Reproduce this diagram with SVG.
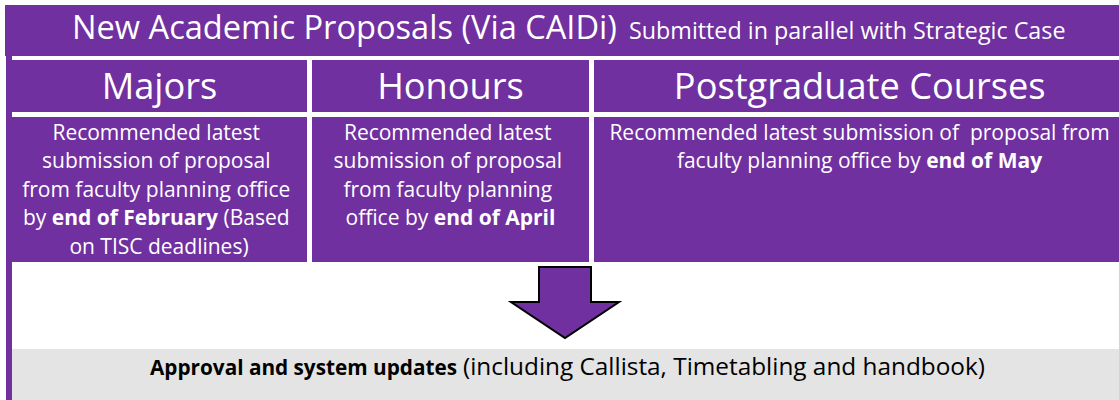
<svg xmlns="http://www.w3.org/2000/svg" width="1119" height="400" viewBox="0 0 1119 400">
<style>
.p{fill:#7030a0}
.t{font-family:"Open Sans","Noto Sans","Liberation Sans",sans-serif;fill:#ffffff}
.h{font-size:36.2px;text-anchor:middle}
.b{font-size:21px;text-anchor:middle}
.k{font-family:"Open Sans","Noto Sans","Liberation Sans",sans-serif;fill:#000000}
.bold{font-weight:bold}
</style>
<rect width="1119" height="400" fill="#ffffff"/>
<rect class="p" x="6" y="56" width="6" height="344"/>
<g id="title">
<rect class="p" x="5" y="5" width="1114" height="51"/>
<text class="t" y="38.5"><tspan x="72" font-size="32.6">New Academic Proposals (Via CAIDi)</tspan><tspan x="629" font-size="23.3">Submitted in parallel with Strategic Case</tspan></text>
</g>
<g id="majors-header">
<rect class="p" x="12" y="60" width="295" height="52"/>
<text class="t h" x="159.5" y="98.5">Majors</text>
</g>
<g id="honours-header">
<rect class="p" x="312" y="60" width="277" height="52"/>
<text class="t h" x="450.5" y="98.5">Honours</text>
</g>
<g id="postgrad-header">
<rect class="p" x="594" y="60" width="525" height="52"/>
<text class="t h" x="859.7" y="98.5">Postgraduate Courses</text>
</g>
<g id="majors-body">
<rect class="p" x="12" y="117" width="295" height="145"/>
<text class="t b" y="139.5">
<tspan x="159" dy="0">Recommended latest</tspan>
<tspan x="159" dy="28.5">submission of proposal</tspan>
<tspan x="159" dy="28.5">from faculty planning office</tspan>
<tspan x="159" dy="28.5">by <tspan class="bold">end of February</tspan> (Based</tspan>
<tspan x="159" dy="28.5">on TISC deadlines)</tspan>
</text>
</g>
<g id="honours-body">
<rect class="p" x="312" y="117" width="277" height="145"/>
<text class="t b" y="139.5">
<tspan x="450.5" dy="0">Recommended latest</tspan>
<tspan x="450.5" dy="28.5">submission of proposal</tspan>
<tspan x="450.5" dy="28.5">from faculty planning</tspan>
<tspan x="450.5" dy="28.5">office by <tspan class="bold">end of April</tspan></tspan>
</text>
</g>
<g id="postgrad-body">
<rect class="p" x="594" y="117" width="525" height="145"/>
<text class="t b" y="139.5" xml:space="preserve"><tspan x="859.5" dy="0">Recommended latest submission of  proposal from</tspan><tspan x="859.5" dy="28.5">faculty planning office by <tspan class="bold">end of May</tspan></tspan></text>
</g>
<g id="connectors">
<path d="M539,267 H591 V302 H619 L565,338 L511,302 H539 Z" fill="#7030a0" stroke="#000000" stroke-width="2" stroke-linejoin="miter"/>
</g>
<g id="approval">
<rect x="12" y="349" width="1107" height="51" fill="#e4e4e4"/>
<text class="k" y="374.5"><tspan x="150" class="bold" font-size="22" textLength="307" lengthAdjust="spacingAndGlyphs">Approval and system updates</tspan><tspan x="463" font-size="23.2" textLength="522" lengthAdjust="spacingAndGlyphs">(including Callista, Timetabling and handbook)</tspan></text>
</g>
</svg>
